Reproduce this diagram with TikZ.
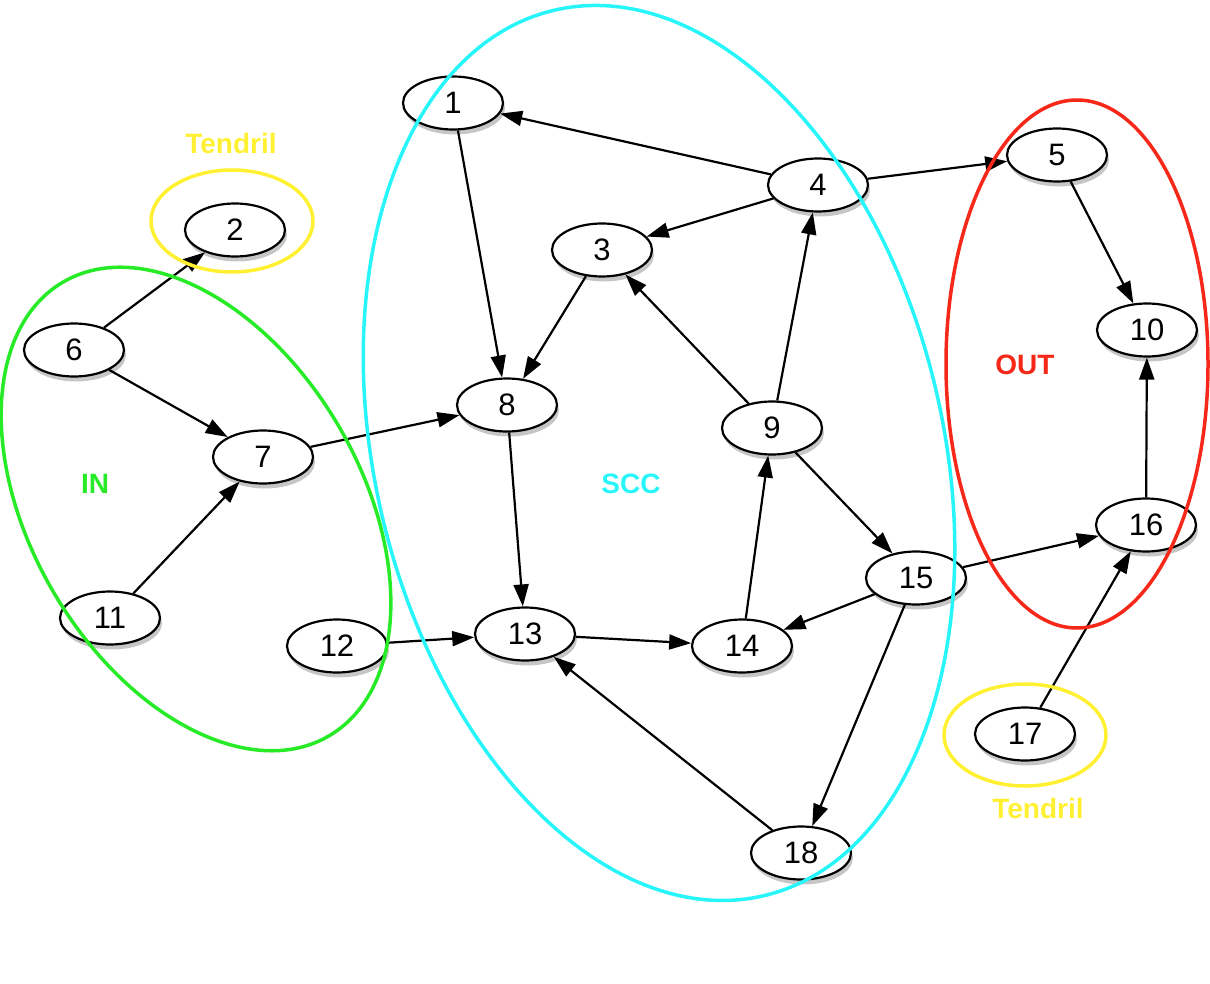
\documentclass[tikz,border=0pt]{standalone}
\usepackage{fontspec}
\setmainfont{Liberation Sans}
\usetikzlibrary{shapes.geometric,arrows.meta,shadows}
\definecolor{sccc}{RGB}{40,245,250}
\definecolor{inc}{RGB}{40,235,40}
\definecolor{outc}{RGB}{245,40,25}
\definecolor{tenc}{RGB}{255,240,50}
\begin{document}
\begin{tikzpicture}[x=1pt,y=-1pt,
  vnode/.style={ellipse,draw=black,line width=2.2pt,fill=white,minimum width=100pt,minimum height=53pt,inner sep=0pt,
    font=\fontsize{31}{35}\selectfont,
    drop shadow={opacity=0.45,shadow xshift=2pt,shadow yshift=-5pt}},
  edge/.style={line width=2.2pt,-{Triangle[length=22pt,width=15pt]}},
  group/.style={line width=3.5pt},
  glabel/.style={font=\fontsize{28}{32}\selectfont\bfseries}]
\useasboundingbox (0,0) rectangle (1210,984);
% nodes
\node[vnode] (n1) at (453,103) {1};
\node[vnode] (n2) at (235,230) {2};
\node[vnode] (n3) at (602,250) {3};
\node[vnode] (n4) at (818,185) {4};
\node[vnode] (n5) at (1057,155) {5};
\node[vnode] (n6) at (74,350) {6};
\node[vnode] (n7) at (263,457) {7};
\node[vnode] (n8) at (507,405) {8};
\node[vnode] (n9) at (772,428) {9};
\node[vnode] (n10) at (1147,330) {10};
\node[vnode] (n11) at (110,618) {11};
\node[vnode] (n12) at (337,646) {12};
\node[vnode] (n13) at (525,634) {13};
\node[vnode] (n14) at (742,646) {14};
\node[vnode] (n15) at (916,578) {15};
\node[vnode] (n16) at (1146,525) {16};
\node[vnode] (n17) at (1025,734) {17};
\node[vnode] (n18) at (801,853) {18};
% edges
\draw[edge] (n4) -- (n1);
\draw[edge] (n4) -- (n5);
\draw[edge] (n4) -- (n3);
\draw[edge] (n1) -- (n8);
\draw[edge] (n3) -- (n8);
\draw[edge] (n9) -- (n3);
\draw[edge] (n9) -- (n4);
\draw[edge] (n7) -- (n8);
\draw[edge] (n6) -- (n2);
\draw[edge] (n6) -- (n7);
\draw[edge] (n11) -- (n7);
\draw[edge] (n8) -- (n13);
\draw[edge] (n12) -- (n13);
\draw[edge] (n13) -- (n14);
\draw[edge] (n14) -- (n9);
\draw[edge] (n9) -- (n15);
\draw[edge] (n15) -- (n14);
\draw[edge] (n15) -- (n16);
\draw[edge] (n15) -- (n18);
\draw[edge] (n18) -- (n13);
\draw[edge] (n5) -- (n10);
\draw[edge] (n16) -- (n10);
\draw[edge] (n17) -- (n16);
% groups
\coordinate (cin) at (196,509);
\coordinate (cscc) at (659,453);
\coordinate (cout) at (1077,364);
\draw[group,inc,rotate around={-59.6:(cin)}] (cin) ellipse [x radius=263,y radius=165];
\draw[group,sccc,rotate around={-76.6:(cscc)}] (cscc) ellipse [x radius=455,y radius=284];
\draw[group,outc] (cout) ellipse [x radius=131,y radius=264];
\draw[group,tenc] (n2) ++(-3,-9) ellipse [x radius=81,y radius=51];
\draw[group,tenc] (n17) ++(0,1) ellipse [x radius=81,y radius=51];
% labels
\node[glabel,text=tenc] (t1) at (231,143) {Tendril};
\node[glabel,text=tenc] (t2) at (1038,808) {Tendril};
\node[glabel,text=inc] (lin) at (95,484) {IN};
\node[glabel,text=sccc] (lscc) at (631,484) {SCC};
\node[glabel,text=outc] (lout) at (1025,365) {OUT};
\end{tikzpicture}
\end{document}
